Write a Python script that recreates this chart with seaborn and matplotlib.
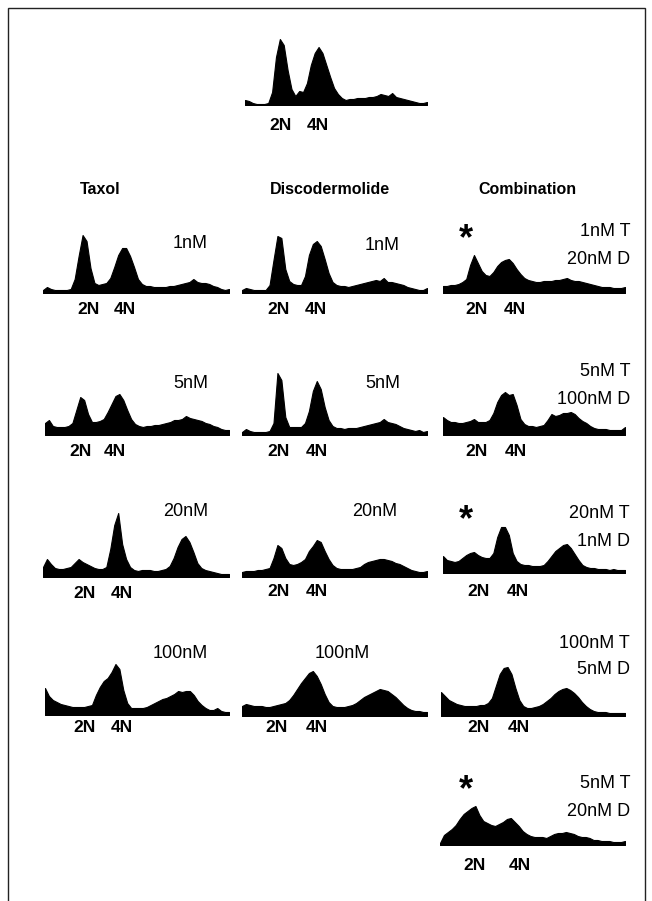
import matplotlib
matplotlib.use("Agg")
import matplotlib.pyplot as plt
import numpy as np
import seaborn as sns

sns.set_style("white")
plt.rcParams["font.family"] = ["Liberation Sans", "DejaVu Sans"]
plt.rcParams["text.color"] = "black"

W, H = 652, 901

# DNA content histograms, 48 channel bins each (counts in arbitrary units)
control = [5, 4, 2, 1, 1, 1, 2, 13, 48, 66, 60, 35, 16, 9, 14, 13, 22, 40, 52, 58, 52, 40, 28, 17,
           11, 7, 5, 6, 6, 7, 7, 7, 8, 8, 9, 11, 10, 9, 12, 8, 7, 6, 5, 4, 3, 2, 2, 3]

taxol_1 = [3, 6, 4, 3, 3, 3, 3, 4, 14, 37, 58, 52, 25, 10, 8, 9, 10, 15, 26, 38, 45, 45, 37, 26,
           14, 9, 7, 7, 6, 6, 6, 6, 7, 7, 8, 9, 10, 11, 14, 11, 10, 10, 9, 7, 6, 4, 3, 4]
taxol_5 = [12, 15, 9, 8, 8, 8, 9, 12, 25, 38, 35, 21, 13, 13, 14, 16, 23, 31, 39, 41, 35, 25, 16, 11,
           9, 8, 9, 9, 10, 10, 11, 12, 13, 15, 15, 16, 19, 17, 16, 15, 14, 12, 11, 9, 8, 6, 5, 5]
taxol_20 = [10, 18, 13, 9, 8, 8, 9, 10, 14, 18, 15, 13, 11, 9, 8, 8, 10, 28, 52, 64, 33, 18, 10, 7,
            6, 7, 7, 7, 6, 6, 7, 8, 11, 19, 30, 38, 41, 35, 25, 14, 9, 7, 6, 5, 4, 3, 3, 3]
taxol_100 = [27, 19, 15, 13, 11, 10, 9, 8, 8, 8, 8, 9, 10, 20, 28, 34, 37, 43, 51, 46, 25, 12, 7, 7,
             7, 7, 8, 10, 12, 14, 16, 17, 19, 21, 24, 23, 24, 24, 20, 14, 10, 7, 5, 5, 7, 4, 3, 3]

disco_1 = [3, 5, 4, 3, 3, 3, 3, 8, 33, 57, 55, 24, 12, 9, 8, 8, 17, 38, 49, 52, 47, 34, 20, 11,
           8, 7, 7, 6, 7, 8, 9, 10, 11, 12, 13, 12, 15, 11, 11, 10, 9, 8, 6, 5, 4, 3, 3, 5]
disco_5 = [3, 6, 4, 3, 3, 3, 3, 4, 12, 62, 55, 18, 8, 8, 8, 8, 12, 24, 44, 54, 46, 28, 15, 9,
           7, 7, 6, 7, 7, 7, 8, 9, 10, 11, 12, 13, 16, 13, 12, 11, 9, 7, 6, 5, 4, 5, 3, 4]
disco_20 = [5, 6, 6, 6, 7, 7, 8, 9, 19, 32, 29, 19, 13, 12, 13, 15, 18, 26, 31, 37, 35, 26, 18, 12,
            9, 8, 8, 8, 8, 9, 10, 13, 15, 16, 17, 18, 18, 17, 16, 14, 13, 11, 9, 7, 6, 5, 5, 6]
disco_100 = [10, 12, 11, 10, 10, 10, 9, 9, 10, 11, 12, 13, 16, 21, 27, 33, 38, 43, 45, 40, 32, 22, 14, 10,
             9, 9, 9, 10, 11, 13, 16, 19, 21, 23, 25, 27, 26, 25, 22, 19, 15, 11, 8, 6, 5, 5, 4, 4]

combo_1t_20d = [7, 7, 8, 8, 9, 11, 14, 28, 38, 30, 22, 18, 17, 21, 27, 31, 33, 34, 30, 24, 19, 15, 13, 12,
                11, 11, 12, 12, 12, 13, 13, 14, 15, 13, 12, 12, 11, 10, 9, 8, 7, 6, 6, 6, 5, 5, 5, 6]
combo_5t_100d = [18, 15, 13, 13, 12, 12, 13, 14, 16, 13, 13, 13, 15, 22, 33, 40, 43, 40, 41, 30, 16, 11, 9, 9,
                 8, 9, 10, 15, 21, 19, 20, 22, 22, 23, 21, 17, 14, 12, 9, 7, 6, 6, 6, 5, 5, 5, 5, 8]
combo_20t_1d = [17, 13, 12, 11, 12, 15, 18, 20, 21, 18, 16, 15, 15, 20, 36, 46, 46, 38, 20, 12, 9, 8, 8, 7,
                7, 7, 8, 12, 17, 22, 25, 28, 29, 25, 19, 13, 8, 6, 5, 5, 4, 4, 4, 3, 4, 3, 3, 3]
combo_100t_5d = [24, 20, 16, 14, 12, 11, 10, 10, 10, 10, 11, 11, 13, 18, 30, 42, 48, 49, 42, 28, 16, 10, 8, 8,
                 9, 10, 12, 15, 18, 22, 25, 27, 28, 26, 23, 19, 14, 10, 7, 5, 4, 4, 4, 3, 3, 3, 3, 3]
combo_5t_20d = [2, 10, 13, 16, 20, 26, 31, 34, 37, 39, 30, 24, 22, 20, 19, 21, 23, 26, 27, 23, 19, 14, 11, 9,
                8, 8, 8, 7, 9, 11, 12, 12, 13, 12, 11, 9, 8, 8, 7, 5, 5, 4, 4, 4, 3, 3, 3, 4]

col_titles = ["Taxol", "Discodermolide", "Combination"]
taxol_doses = ["1nM", "5nM", "20nM", "100nM"]
disco_doses = ["1nM", "5nM", "20nM", "100nM"]
combo_doses = [("1nM T", "20nM D"), ("5nM T", "100nM D"), ("20nM T", "1nM D"),
               ("100nM T", "5nM D"), ("5nM T", "20nM D")]
combo_marked = [True, False, True, False, True]

fig = plt.figure(figsize=(W / 100, H / 100), dpi=100)


def put(x, y, s, **kw):
    kw.setdefault("va", "center")
    kw.setdefault("ha", "center")
    kw.setdefault("color", "black")
    fig.text(x / W, 1 - y / H, s, **kw)


def panel(counts, left, right, base, n2=None, n4=None, ly=None):
    ax = fig.add_axes([left / W, 1 - base / H, (right - left) / W, 75 / H])
    sns.histplot(x=np.arange(len(counts)), weights=counts, discrete=True,
                 element="poly", fill=True, color="black", alpha=1,
                 linewidth=0.8, ax=ax)
    ax.set_xlim(0, len(counts) - 1)
    ax.set_ylim(0, 75)
    ax.axis("off")
    if n2 is not None:
        put(n2, ly, "2N", fontsize=12.5, fontweight="bold")
        put(n4, ly, "4N", fontsize=12.5, fontweight="bold")
    return ax


# untreated
panel(control, 245, 427, 105, 280, 318, 126)

for x, s in zip([100, 330, 527], col_titles):
    put(x, 190, s, fontsize=11.5, fontweight="bold")

# taxol column
t_geom = [(43, 293, 88, 125, 310, 244), (45, 435, 80, 115, 452, 383),
          (43, 577, 85, 122, 593, 512), (45, 715, 85, 122, 728, 653)]
for counts, dose, (l, b, a, c, ly, ty) in zip([taxol_1, taxol_5, taxol_20, taxol_100], taxol_doses, t_geom):
    panel(counts, l, 229, b, a, c, ly)
    put(208, ty, dose, fontsize=13, ha="right")

# discodermolide column
d_geom = [(293, 278, 316, 310, 245, 400), (435, 278, 317, 452, 383, 400),
          (577, 278, 317, 592, 512, 397), (716, 277, 317, 728, 653, 370)]
for counts, dose, (b, a, c, ly, ty, tx) in zip([disco_1, disco_5, disco_20, disco_100], disco_doses, d_geom):
    panel(counts, 242, 427, b, a, c, ly)
    put(tx, ty, dose, fontsize=13, ha="right")

# combination column
c_geom = [(443, 293, 477, 515, 310, 232, 259), (443, 435, 477, 516, 452, 372, 400),
          (443, 573, 478, 518, 592, 513, 542), (441, 716, 479, 519, 728, 643, 670),
          (440, 845, 475, 520, 866, 783, 812)]
combos = [combo_1t_20d, combo_5t_100d, combo_20t_1d, combo_100t_5d, combo_5t_20d]
for counts, (d1, d2), star, (l, b, a, c, ly, y1, y2) in zip(combos, combo_doses, combo_marked, c_geom):
    panel(counts, l, 625, b, a, c, ly)
    put(630, y1, d1, fontsize=13, ha="right")
    put(630, y2, d2, fontsize=13, ha="right")
    if star:
        put(466, y1 + 8, "*", fontsize=26, fontweight="bold")

fig.add_artist(plt.Rectangle((8 / W, -0.01), (645 - 8) / W, 1 - 8 / H + 0.01,
                             fill=False, lw=1, ec="#222222", transform=fig.transFigure))

fig.savefig("out.png", dpi=100)
